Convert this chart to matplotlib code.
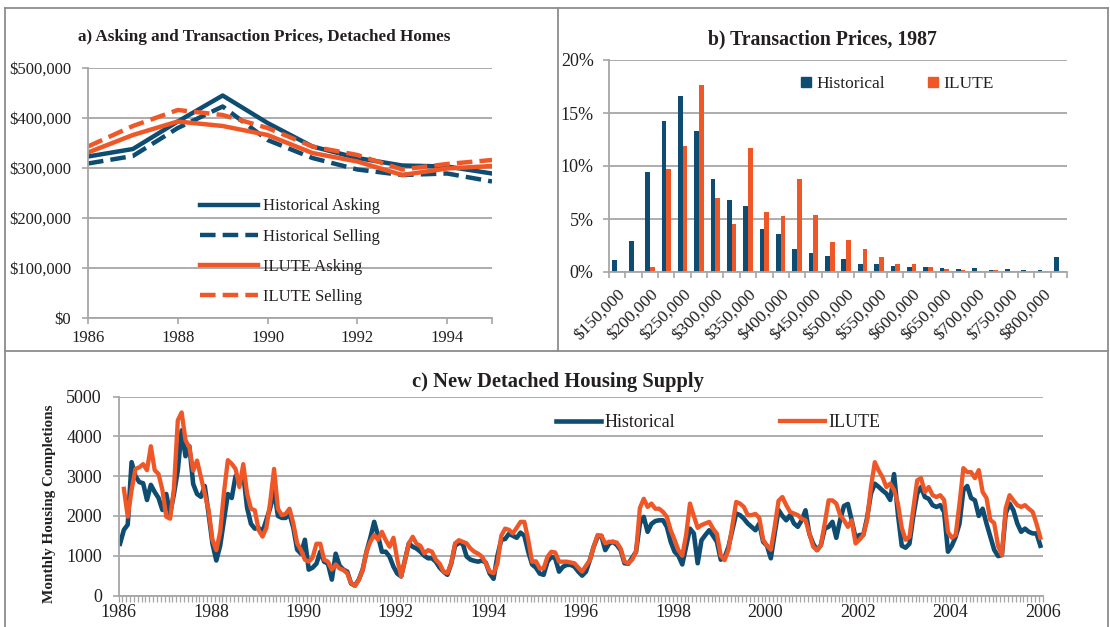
#!/usr/bin/env python3
"""Three-panel housing market figure: prices, 1987 price distribution, monthly supply."""

import numpy as np
import matplotlib

matplotlib.use("Agg")
import matplotlib.pyplot as plt
from matplotlib.lines import Line2D
from matplotlib.patches import Patch
from matplotlib.ticker import FuncFormatter

plt.rcParams["font.family"] = ["Liberation Serif", "DejaVu Serif"]

BLUE = "#0e4c72"
ORANGE = "#ef5727"
GRID = "#a6a6a6"
FRAME = "#8c8c8c"
TEXT = "#231f20"

# ---- a) asking and transaction prices, detached homes (yearly)
price_years = [1986, 1987, 1988, 1989, 1990, 1991, 1992, 1993, 1994, 1995]
hist_asking = [323000, 338000, 393000, 445000, 390000, 343000, 320000, 305000, 303000, 289000]
hist_selling = [309000, 324000, 380000, 423000, 356000, 320000, 297000, 286000, 289000, 273000]
ilute_asking = [331000, 366000, 393000, 384000, 366000, 330000, 313000, 286000, 299000, 304000]
ilute_selling = [343000, 384000, 416000, 406000, 380000, 343000, 326000, 297000, 308000, 316000]

# ---- b) transaction prices 1987, share of sales per $25k bin
price_bins = list(range(150000, 850000, 25000))
bin_labels = ["${:,}".format(b) for b in price_bins]
hist_share = [1.1, 2.9, 9.4, 14.2, 16.6, 13.3, 8.8, 6.8, 6.2, 4.1, 3.6, 2.2, 1.8, 1.5,
              1.2, 0.8, 0.8, 0.6, 0.45, 0.45, 0.35, 0.25, 0.35, 0.2, 0.25, 0.15, 0.15, 1.45]
ilute_share = [0.0, 0.0, 0.5, 9.7, 11.9, 17.6, 7.0, 4.5, 11.7, 5.7, 5.3, 8.8, 5.4, 2.8,
               3.0, 2.15, 1.4, 0.8, 0.8, 0.5, 0.25, 0.2, 0.1, 0.2, 0.05, 0.03, 0.0, 0.0]

# ---- c) new detached housing supply, monthly completions Jan 1986 - Dec 2005
hist_completions = [
    1300, 1650, 1780, 3350, 3000, 2850, 2820, 2400, 2780, 2600, 2450, 2150,  # 1986
    2550, 2050, 2550, 3150, 4150, 3500, 3750, 2800, 2550, 2480, 2750, 2050,  # 1987
    1300, 880, 1250, 1900, 2550, 2450, 3000, 2850, 3050, 2200, 1800, 1680,  # 1988
    1700, 1600, 1900, 2200, 2640, 2000, 1950, 1950, 2050, 1700, 1150, 1050,  # 1989
    1400, 650, 700, 800, 1100, 850, 800, 400, 1050, 750, 650, 600,  # 1990
    300, 250, 400, 650, 1100, 1450, 1850, 1500, 1100, 1100, 975, 725,  # 1991
    550, 480, 900, 1310, 1225, 1180, 1100, 1000, 935, 935, 850, 700,  # 1992
    600, 520, 800, 1250, 1320, 1300, 980, 900, 870, 850, 880, 820,  # 1993
    550, 420, 1000, 1400, 1420, 1550, 1500, 1450, 1580, 1500, 1100, 780,  # 1994
    700, 550, 520, 850, 975, 935, 600, 720, 770, 770, 725, 600,  # 1995
    500, 600, 890, 1225, 1475, 1500, 1140, 1300, 1350, 1270, 1140, 810,  # 1996
    800, 950, 1100, 1810, 1975, 1600, 1800, 1870, 1890, 1890, 1725, 1350,  # 1997
    1100, 1000, 780, 1225, 1680, 1560, 810, 1390, 1520, 1640, 1500, 1350,  # 1998
    900, 960, 1225, 1640, 2060, 2020, 1930, 1810, 1725, 1640, 1810, 1350,  # 1999
    1250, 935, 1560, 2150, 2000, 1890, 2020, 1810, 1725, 1890, 2140, 1550,  # 2000
    1300, 1140, 1265, 1680, 1725, 1850, 1450, 1900, 2250, 2300, 1890, 1450,  # 2001
    1520, 1520, 1950, 2560, 2810, 2730, 2640, 2560, 2400, 3050, 2050, 1250,  # 2002
    1200, 1300, 2000, 2560, 2725, 2475, 2430, 2270, 2225, 2270, 2100, 1100,  # 2003
    1250, 1475, 1810, 2650, 2750, 2450, 2390, 2000, 2180, 1810, 1475, 1150,  # 2004
    990, 1015, 2060, 2310, 2140, 1810, 1600, 1680, 1600, 1560, 1560, 1250,  # 2005
]
ilute_completions = [
    np.nan, 2680, 1980, 2650, 3180, 3220, 3300, 3150, 3750, 3150, 3050, 2650,  # 1986
    1980, 1930, 2700, 4400, 4600, 3900, 3720, 3140, 3390, 2975, 2560, 2140,  # 1987
    1400, 1140, 1600, 2600, 3400, 3310, 3180, 2725, 3300, 2560, 2180, 2140,  # 1988
    1640, 1480, 1700, 2350, 3180, 2180, 2020, 2050, 2180, 1810, 1310, 1140,  # 1989
    900, 850, 950, 1300, 1300, 900, 850, 650, 780, 680, 640, 560,  # 1990
    310, 240, 390, 640, 1100, 1350, 1520, 1400, 1600, 1390, 1225, 1450,  # 1991
    900, 480, 890, 1310, 1475, 1300, 1250, 1060, 1140, 1100, 900, 800,  # 1992
    600, 560, 810, 1310, 1390, 1350, 1310, 1180, 1100, 1050, 975, 810,  # 1993
    600, 560, 800, 1500, 1680, 1650, 1560, 1700, 1850, 1850, 1400, 850,  # 1994
    860, 680, 680, 975, 1100, 1080, 850, 850, 850, 830, 810, 700,  # 1995
    600, 750, 890, 1225, 1520, 1500, 1310, 1350, 1350, 1330, 1180, 850,  # 1996
    810, 900, 1100, 2200, 2430, 2225, 2310, 2180, 2180, 2100, 1975, 1640,  # 1997
    1400, 1140, 1000, 1520, 2310, 2000, 1700, 1770, 1810, 1850, 1680, 1550,  # 1998
    1000, 890, 1150, 1750, 2350, 2310, 2225, 2020, 2020, 2050, 1950, 1400,  # 1999
    1250, 1150, 1725, 2380, 2475, 2270, 2100, 2060, 2020, 1930, 1890, 1560,  # 2000
    1225, 1140, 1265, 1810, 2390, 2390, 2310, 2020, 1890, 1725, 1890, 1310,  # 2001
    1400, 1520, 1890, 2725, 3350, 3140, 2975, 2725, 2810, 2650, 2310, 1700,  # 2002
    1400, 1475, 2180, 2890, 2950, 2600, 2725, 2520, 2475, 2520, 2400, 1600,  # 2003
    1450, 1520, 2310, 3200, 3100, 3100, 2950, 3150, 2600, 2450, 1900, 1820,  # 2004
    1250, 1017, 2200, 2520, 2390, 2270, 2225, 2270, 2180, 2100, 1800, 1450,  # 2005
]

W, H = 1110, 627
fig = plt.figure(figsize=(W / 100, H / 100), dpi=100)
fig.patch.set_facecolor("white")


def px_axes(x0, y0, x1, y1):
    """Axes placed by pixel box (top-left origin)."""
    return fig.add_axes([x0 / W, 1 - y1 / H, (x1 - x0) / W, (y1 - y0) / H])


def style(ax, ypad, size=12):
    ax.set_facecolor("none")
    for s in ("top", "right"):
        ax.spines[s].set_visible(False)
    for s in ("left", "bottom"):
        ax.spines[s].set_color(GRID)
        ax.spines[s].set_linewidth(1.3)
    ax.grid(axis="y", color=GRID, linewidth=1.3)
    ax.set_axisbelow(True)
    ax.tick_params(which="both", colors=GRID, labelcolor=TEXT, labelsize=size,
                   length=4, width=1.2)
    ax.tick_params(axis="y", pad=ypad)


def frame_line(x0, y0, x1, y1):
    fig.add_artist(Line2D([x0 / W, x1 / W], [1 - y0 / H, 1 - y1 / H],
                          transform=fig.transFigure, color=FRAME, lw=1.3))


# panel frames
frame_line(5, 8, 1108, 8)
frame_line(5, 8, 5, 627)
frame_line(1108, 8, 1108, 627)
frame_line(558, 8, 558, 351)
frame_line(5, 351, 1108, 351)

# ---------------- a)
ax = px_axes(88, 68, 492, 318)
style(ax, ypad=8)
ax.plot(price_years, hist_asking, color=BLUE, lw=3.2, label="Historical Asking")
ax.plot(price_years, hist_selling, color=BLUE, lw=3.2, dashes=(3.5, 1.6),
        label="Historical Selling")
ax.plot(price_years, ilute_asking, color=ORANGE, lw=3.2, label="ILUTE Asking")
ax.plot(price_years, ilute_selling, color=ORANGE, lw=3.2, dashes=(3.5, 1.6),
        label="ILUTE Selling")
ax.set_xlim(1986, 1995)
ax.set_ylim(0, 500000)
ax.set_xticks([1986, 1988, 1990, 1992, 1994])
ax.set_xticks([1995], minor=True)
ax.set_yticks(range(0, 500001, 100000))
ax.yaxis.set_major_formatter(FuncFormatter(lambda v, _: "${:,.0f}".format(v)))
ax.tick_params(axis="x", pad=5)
ax.legend(loc="upper left", bbox_to_anchor=(0.277, 0.478), frameon=False,
          fontsize=12, handlelength=3.5, handletextpad=0.3, labelspacing=0.85,
          borderpad=0, borderaxespad=0, labelcolor=TEXT)
fig.text(264 / W, 1 - 37 / H, "a) Asking and Transaction Prices, Detached Homes",
         ha="center", va="center", fontsize=12.3, fontweight="bold", color=TEXT)

# ---------------- b)
ax = px_axes(609, 60, 1067, 272)
style(ax, ypad=7, size=13)
x = np.arange(len(price_bins))
ax.bar(x - 0.145, hist_share, 0.29, color=BLUE)
ax.bar(x + 0.145, ilute_share, 0.29, color=ORANGE)
ax.set_xlim(-0.5, len(price_bins) - 0.5)
ax.set_ylim(0, 20)
ax.set_yticks(range(0, 21, 5))
ax.yaxis.set_major_formatter(FuncFormatter(lambda v, _: "{:.0f}%".format(v)))
ax.set_xticks(x[::2])
ax.set_xticklabels(bin_labels[::2], rotation=45, ha="right", rotation_mode="anchor",
                   fontsize=12.5)
ax.set_xticks(np.arange(-0.5, len(price_bins)), minor=True)
ax.tick_params(axis="x", which="major", length=0, pad=10)
ax.legend(handles=[Patch(color=BLUE), Patch(color=ORANGE)],
          labels=["Historical", "ILUTE"], ncol=2, loc="center left",
          bbox_to_anchor=(0.42, 0.885), frameon=False, fontsize=12.5,
          handlelength=0.55, handleheight=0.55, handletextpad=0.3,
          columnspacing=2.5, borderpad=0, borderaxespad=0, labelcolor=TEXT)
fig.text(822 / W, 1 - 39 / H, "b) Transaction Prices, 1987", ha="center",
         va="center", fontsize=14.2, fontweight="bold", color=TEXT)

# ---------------- c)
ax = px_axes(118.5, 396.5, 1042.7, 595.5)
style(ax, ypad=8, size=13)
months = 1986 + (np.arange(len(hist_completions)) + 0.4) / 12
ax.plot(months, hist_completions, color=BLUE, lw=3.3, solid_joinstyle="round",
        label="Historical")
ax.plot(months, ilute_completions, color=ORANGE, lw=3.1, solid_joinstyle="round",
        label="ILUTE")
ax.set_xlim(1986, 2006)
ax.set_ylim(0, 5000)
ax.set_yticks(range(0, 5001, 1000))
ax.set_xticks(range(1986, 2007, 2))
ax.set_xticks(1986 + np.arange(0, 241) / 12, minor=True)
ax.tick_params(axis="x", which="both", length=4, width=0.9, pad=2)
ax.legend(ncol=2, loc="center left", bbox_to_anchor=(0.473, 0.867), frameon=False,
          fontsize=13, handlelength=2.5, handletextpad=0.2, columnspacing=5.8,
          borderpad=0, borderaxespad=0, labelcolor=TEXT)
fig.text(558 / W, 1 - 382 / H, "c) New Detached Housing Supply", ha="center",
         va="center", fontsize=14.8, fontweight="bold", color=TEXT)
fig.text(50 / W, 1 - 504 / H, "Monthly Housing Completions", ha="center",
         va="center", rotation=90, fontsize=10.9, fontweight="bold", color=TEXT)

fig.savefig("out.png", dpi=100, facecolor="white")
